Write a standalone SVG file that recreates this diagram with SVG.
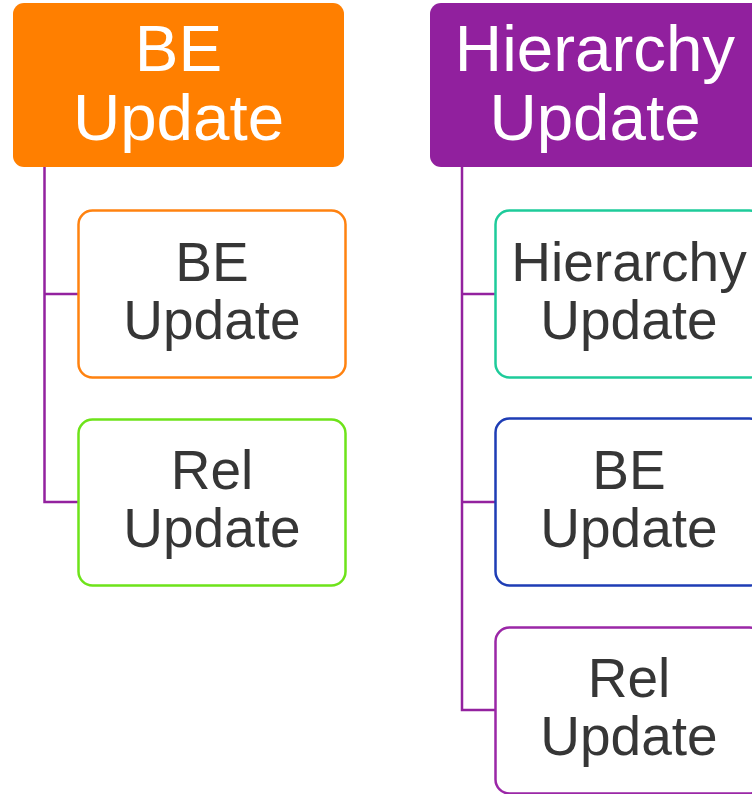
<svg xmlns="http://www.w3.org/2000/svg" width="752" height="794" viewBox="0 0 752 794">
  <style>
    .head rect { stroke: none; }
    .head text { fill: #ffffff; font-family: "Liberation Sans", Arial, sans-serif; font-size: 65.5px; text-anchor: middle; }
    .child rect { fill: #ffffff; stroke-width: 2.5; }
    .child text { fill: #363636; font-family: "Liberation Sans", Arial, sans-serif; font-size: 55px; text-anchor: middle; }
    .links path { fill: none; stroke: #93229f; stroke-width: 2.5; }
  </style>
  <rect width="752" height="794" fill="#ffffff"/>

  <!-- tree connectors -->
  <g class="links" id="connectors">
    <path d="M44.5 167 V502 H79 M44.5 294 H79"/>
    <path d="M462 167 V710 H496 M462 294 H496 M462 502 H496"/>
  </g>

  <!-- left column -->
  <g class="head" id="be-update-head">
    <rect x="13" y="3" width="331" height="164" rx="11" fill="#ff7f00"/>
    <text x="178.5" y="71">BE</text>
    <text x="178.5" y="140">Update</text>
  </g>
  <g class="child" id="be-update-left">
    <rect x="78.5" y="210.5" width="267" height="167" rx="14" stroke="#ff8210"/>
    <text x="212" y="281">BE</text>
    <text x="212" y="339">Update</text>
  </g>
  <g class="child" id="rel-update-left">
    <rect x="78.5" y="419.5" width="267" height="166" rx="14" stroke="#6ee31a"/>
    <text x="212" y="489">Rel</text>
    <text x="212" y="547">Update</text>
  </g>

  <!-- right column -->
  <g class="head" id="hierarchy-update-head">
    <rect x="430" y="3" width="332" height="164" rx="11" fill="#91209e"/>
    <text x="595" y="71">Hierarchy</text>
    <text x="595" y="140">Update</text>
  </g>
  <g class="child" id="hierarchy-update-right">
    <rect x="495.5" y="210.5" width="268" height="167" rx="14" stroke="#1ecb9a"/>
    <text x="629" y="281">Hierarchy</text>
    <text x="629" y="339">Update</text>
  </g>
  <g class="child" id="be-update-right">
    <rect x="495.5" y="418.5" width="268" height="167" rx="14" stroke="#1e3db5"/>
    <text x="629" y="489">BE</text>
    <text x="629" y="547">Update</text>
  </g>
  <g class="child" id="rel-update-right">
    <rect x="495.5" y="627.5" width="268" height="166" rx="14" stroke="#9b27a7"/>
    <text x="629" y="697">Rel</text>
    <text x="629" y="755">Update</text>
  </g>
</svg>
